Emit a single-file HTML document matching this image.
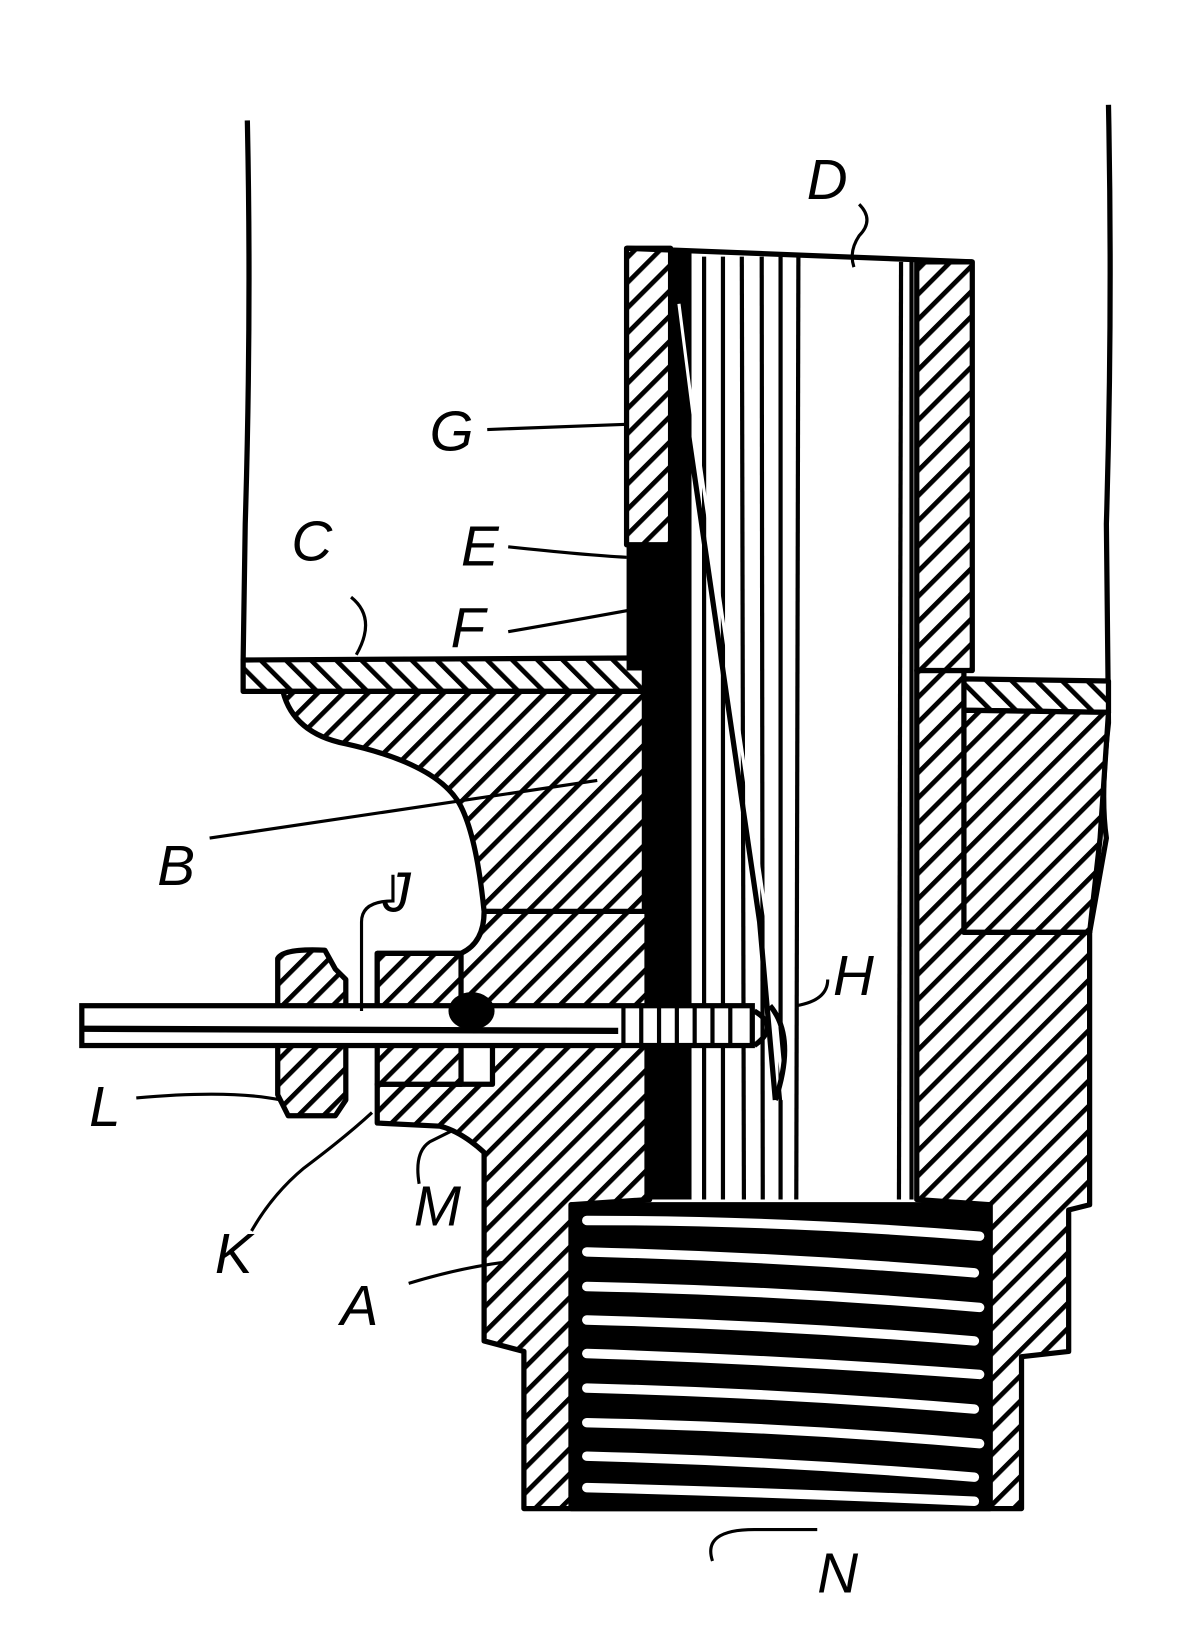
<!DOCTYPE html>
<html><head><meta charset="utf-8"><style>
html,body{margin:0;padding:0;background:#fff;}
svg{display:block;}
text{font-family:"Liberation Sans",sans-serif;font-size:54px;fill:#000;font-style:italic;}
</style></head><body>
<svg width="1184" height="1650" viewBox="0 0 1130 1575" xmlns="http://www.w3.org/2000/svg">
<defs>
<pattern id="h" patternUnits="userSpaceOnUse" width="17" height="17" patternTransform="rotate(45)">
<rect width="17" height="17" fill="#fff"/><rect x="0" y="0" width="4.5" height="17" fill="#000"/>
</pattern>
<pattern id="h2" patternUnits="userSpaceOnUse" width="17" height="17" patternTransform="rotate(-45)">
<rect width="17" height="17" fill="#fff"/><rect x="0" y="0" width="4.5" height="17" fill="#000"/>
</pattern>
</defs>
<g stroke="#000" stroke-width="5" fill="none" stroke-linejoin="round">
<path d="M236 115 Q240 300 234 500 L232 630"/>
<path d="M1058 100 Q1062 300 1056 500 L1058 690 Q1050 760 1056 800 L1040 890"/>
<path d="M232 630 L615 628 L615 660 L232 660 Z" fill="url(#h2)"/>
<path d="M920 648 L1058 650 L1058 680 L920 678 Z" fill="url(#h2)"/>
<path d="M270 660 Q280 700 330 710 Q420 730 440 770 Q455 800 462 870 L615 872 L615 660 Z" fill="url(#h)"/>
<path d="M920 678 L1058 680 L1050 800 L1040 890 L920 890 Z" fill="url(#h)"/>
<path d="M462 870 L620 870 L620 1145 L545 1150 L545 1440 L945 1440 L945 1150 L875 1145 L875 640 L920 640 L920 890 L1040 890 L1040 1150 L1020 1155 L1020 1290 L975 1295 L975 1440 L500 1440 L500 1290 L462 1280 L462 1100 Q440 1080 420 1075 L360 1072 L360 1035 L470 1035 L470 960 L360 960 L360 910 L440 910 Q462 900 462 870 Z" fill="url(#h)"/>
<rect x="545" y="1150" width="400" height="290" fill="#000"/>
<path d="M598 237 L640 237 L640 520 L598 520 Z" fill="url(#h)"/>
<path d="M875 250 L928 250 L928 640 L875 640 Z" fill="url(#h)"/>
<path d="M598 237 L928 250"/>
<path d="M265 915 Q270 905 310 907 L320 925 L330 935 L330 1050 L320 1065 L275 1065 L265 1045 Z" fill="url(#h)"/>
<path d="M360 910 L440 910 L440 1035 L360 1035 Z" fill="url(#h)"/>
</g>
<path d="M640 240 L660 240 L660 1145 L615 1145 L615 520 L640 520 Z" fill="#000"/>
<path d="M598 520 L640 520 L625 580 L615 640 L598 640 Z" fill="#000"/>
<g stroke="#000" stroke-width="4">
<line x1="672" y1="245" x2="672" y2="1145"/><line x1="690" y1="245" x2="690" y2="1145"/>
<line x1="708" y1="245" x2="710" y2="1145"/><line x1="727" y1="245" x2="728" y2="1145"/>
<line x1="745" y1="245" x2="745" y2="1145"/><line x1="762" y1="245" x2="760" y2="1145"/>
<line x1="860" y1="250" x2="858" y2="1145"/><line x1="870" y1="250" x2="870" y2="1145"/>
</g>
<path d="M640 290 L655 400 L725 880 L740 1050" stroke="#000" stroke-width="5" fill="none"/>
<path d="M648 290 L662 400 L732 880 L748 1050" stroke="#fff" stroke-width="3" fill="none"/>
<g stroke="#fff" stroke-width="9" fill="none" stroke-linecap="round">
<path d="M560 1165 Q750 1165 935 1180"/><path d="M560 1195 Q750 1200 930 1215"/>
<path d="M560 1228 Q750 1232 935 1248"/><path d="M560 1260 Q750 1265 930 1280"/>
<path d="M560 1292 Q750 1298 935 1312"/><path d="M560 1325 Q750 1330 930 1345"/>
<path d="M560 1358 Q750 1362 935 1378"/><path d="M560 1390 Q750 1395 930 1410"/>
<path d="M560 1420 Q750 1425 930 1433"/>
</g>
<rect x="78" y="960" width="640" height="38" fill="#fff" stroke="#000" stroke-width="5"/>
<line x1="80" y1="982" x2="590" y2="984" stroke="#000" stroke-width="6"/>
<g stroke="#000" stroke-width="4">
<line x1="595" y1="962" x2="595" y2="996"/><line x1="612" y1="962" x2="612" y2="996"/><line x1="629" y1="962" x2="629" y2="996"/><line x1="646" y1="962" x2="646" y2="996"/><line x1="663" y1="962" x2="663" y2="996"/><line x1="680" y1="962" x2="680" y2="996"/><line x1="697" y1="962" x2="697" y2="996"/>
</g>
<path d="M720 965 Q745 980 720 998 M735 960 Q760 990 740 1050" stroke="#000" stroke-width="5" fill="none"/>
<ellipse cx="450" cy="965" rx="22" ry="18" fill="#000"/>
<g stroke="#000" stroke-width="3" fill="none">
<path d="M820 195 Q835 210 820 225 Q810 240 815 255"/>
<path d="M465 410 L598 405"/>
<path d="M485 522 Q560 530 598 532"/>
<path d="M485 603 Q560 590 625 578"/>
<path d="M335 570 Q360 590 340 625"/>
<path d="M200 800 Q400 770 570 745"/>
<path d="M375 835 L375 860 Q345 860 345 880 L345 965"/>
<path d="M760 960 Q790 955 790 935"/>
<path d="M130 1048 Q220 1040 268 1050"/>
<path d="M240 1175 Q260 1140 290 1115 Q330 1085 355 1062"/>
<path d="M400 1130 Q395 1100 410 1090 L430 1080"/>
<path d="M390 1225 Q440 1210 480 1205"/>
<path d="M680 1490 Q670 1460 720 1460 L780 1460"/>
</g>
<text x="770" y="190">D</text>
<text x="410" y="430">G</text>
<text x="440" y="540">E</text>
<text x="430" y="618">F</text>
<text x="278" y="535">C</text>
<text x="150" y="845">B</text>
<text x="365" y="870">J</text>
<text x="795" y="950">H</text>
<text x="85" y="1075">L</text>
<text x="205" y="1215">K</text>
<text x="395" y="1170">M</text>
<text x="325" y="1265">A</text>
<text x="780" y="1520">N</text>
</svg>
</body></html>
